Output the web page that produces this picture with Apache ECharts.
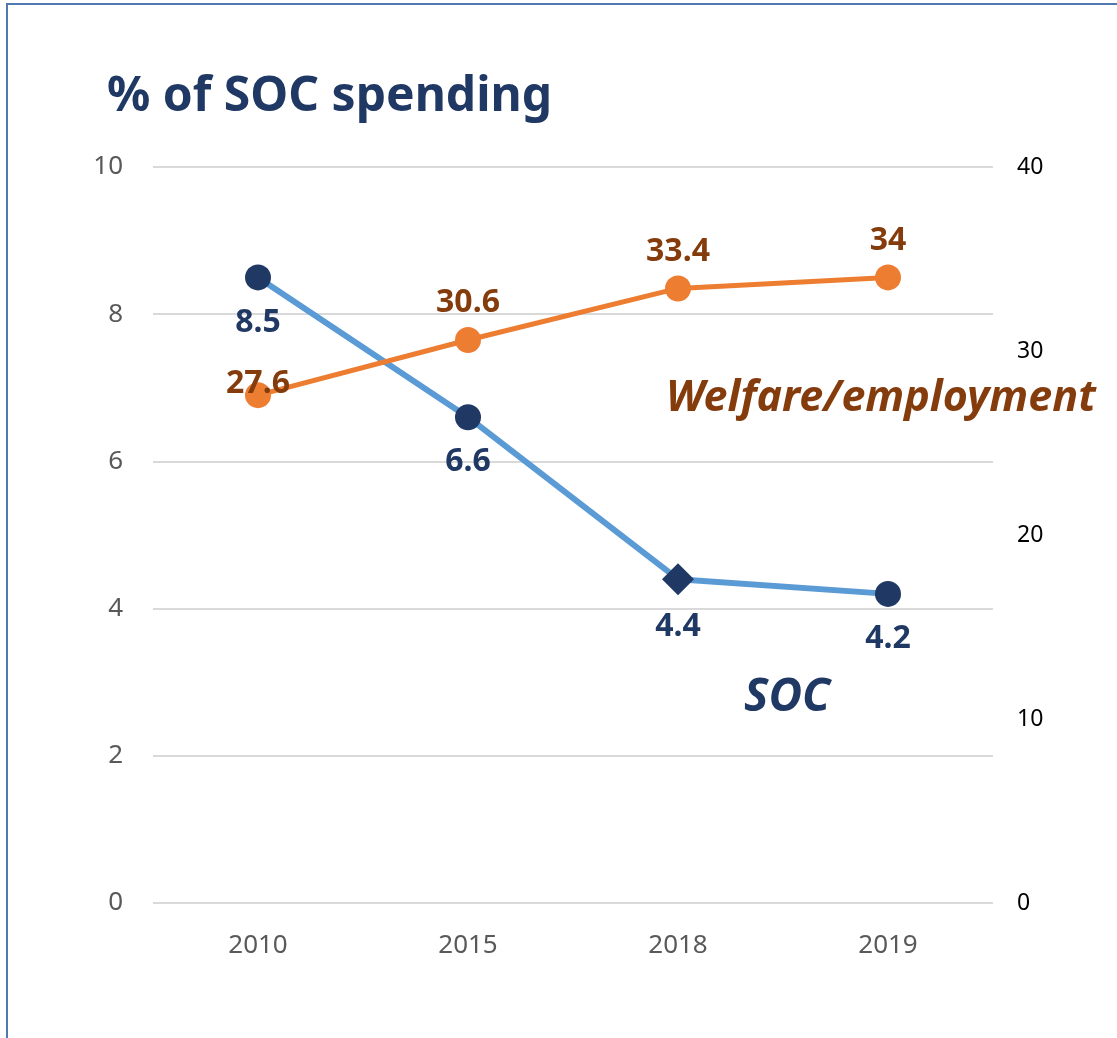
<!DOCTYPE html>
<html>
<head>
<meta charset="utf-8">
<script src="https://cdn.jsdelivr.net/npm/echarts@6/dist/echarts.min.js"></script>
<style>
html,body{margin:0;padding:0;background:#fff;}
#c{width:1117px;height:1038px;position:absolute;left:0;top:0;}
#frame{position:absolute;left:6px;top:3px;width:1200px;height:1100px;border-left:2px solid #4F79B0;border-top:2px solid #4F79B0;pointer-events:none;}
</style>
</head>
<body>
<div id="c"></div>
<div id="frame"></div>
<script>
const years = ['2010', '2015', '2018', '2019'];
const socValues = [8.5, 6.6, 4.4, 4.2];
const welfareValues = [27.6, 30.6, 33.4, 34];
const leftTicks = [0, 2, 4, 6, 8, 10];
const rightTicks = [0, 10, 20, 30, 40];

const FONT = '"Noto Sans", "Open Sans", sans-serif';
const chart = echarts.init(document.getElementById('c'));

const socData = socValues.map((v, i) => {
  const d = { value: v };
  if (i === 2) { d.symbol = 'diamond'; d.symbolSize = 32; }
  return d;
});
const welfareData = welfareValues.map((v, i) => {
  const d = { value: v };
  if (i === 0) { d.label = { offset: [0, 26] }; }
  return d;
});

chart.setOption({
  backgroundColor: '#fff',
  animation: false,
  title: {
    text: '% of SOC spending',
    left: 102, top: 68,
    textStyle: { fontFamily: FONT, fontWeight: 'bold', fontSize: 48, color: '#1F3864' }
  },
  grid: { left: 153, right: 124, top: 167, bottom: 135 },
  xAxis: {
    type: 'category',
    data: years,
    boundaryGap: true,
    axisLine: { show: false },
    axisTick: { show: false },
    axisLabel: { fontFamily: FONT, fontSize: 26, color: '#595959', margin: 30 }
  },
  yAxis: [
    {
      type: 'value', min: leftTicks[0], max: leftTicks[leftTicks.length - 1], interval: 2,
      axisLine: { show: false }, axisTick: { show: false },
      axisLabel: { fontFamily: FONT, fontSize: 26, color: '#595959', margin: 30 },
      splitLine: { lineStyle: { color: '#D9D9D9', width: 2 } }
    },
    {
      type: 'value', min: rightTicks[0], max: rightTicks[rightTicks.length - 1], interval: 10,
      axisLine: { show: false }, axisTick: { show: false },
      axisLabel: { fontFamily: FONT, fontSize: 23, color: '#000', margin: 24 },
      splitLine: { show: false }
    }
  ],
  series: [
    {
      name: 'SOC', type: 'line', yAxisIndex: 0, data: socData,
      symbol: 'circle', symbolSize: 26,
      lineStyle: { color: '#5B9BD5', width: 6 },
      itemStyle: { color: '#203864' },
      label: { show: true, position: 'bottom', distance: 16,
        fontFamily: FONT, fontWeight: 'bold', fontSize: 32, color: '#203864' },
      z: 2
    },
    {
      name: 'Welfare/employment', type: 'line', yAxisIndex: 1, data: welfareData,
      symbol: 'circle', symbolSize: 26,
      lineStyle: { color: '#ED7D31', width: 5 },
      itemStyle: { color: '#ED7D31' },
      label: { show: true, position: 'top', distance: 8,
        fontFamily: FONT, fontWeight: 'bold', fontSize: 32, color: '#843C0C' },
      z: 3
    }
  ],
  graphic: [
    { type: 'text', left: 666, top: 377,
      style: { text: 'Welfare/employment', fontFamily: FONT, fontWeight: 'bold', fontStyle: 'italic', fontSize: 43, fill: '#843C0C' } },
    { type: 'text', left: 744, top: 675,
      style: { text: 'SOC', fontFamily: FONT, fontWeight: 'bold', fontStyle: 'italic', fontSize: 46, fill: '#203864' } }
  ]
});
</script>
</body>
</html>
